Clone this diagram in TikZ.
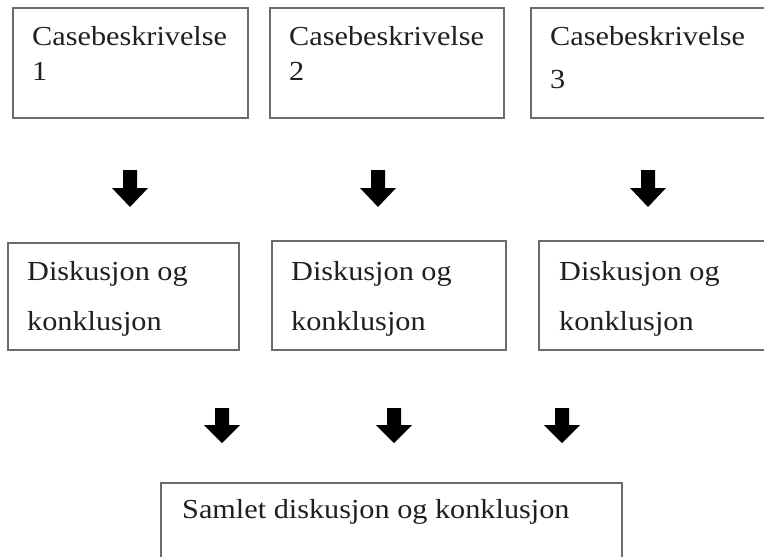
\documentclass[tikz,border=0pt]{standalone}
\usepackage{fontspec}
\setmainfont{Liberation Serif}[FakeStretch=1.1]
\begin{document}
\begin{tikzpicture}[x=1pt,y=-1pt,
  boxline/.style={draw=black!58,line width=1.6pt},
  lbl/.style={anchor=base west,inner sep=0pt,text=black!88,font=\fontsize{27.5}{30}\selectfont},
  blockarrow/.pic={\fill[black] (-7,0) -- (7,0) -- (7,18) -- (18,18) -- (0,37) -- (-18,18) -- (-7,18) -- cycle;},
  blockarrowb/.pic={\fill[black] (-7,0) -- (7,0) -- (7,17) -- (18,17) -- (0,35) -- (-18,17) -- (-7,17) -- cycle;}]
\useasboundingbox (0,0) rectangle (764,557);
\clip (0,0) rectangle (764,557);
\fill[white] (0,0) rectangle (764,557);
% top boxes
\draw[boxline] (13,8) rectangle (248,118);
\draw[boxline] (270,8) rectangle (504,118);
\draw[boxline] (531,8) rectangle (775,118);
\node[lbl] (t1a) at (32,45) {Casebeskrivelse};
\node[lbl] (t1b) at (32,80) {1};
\node[lbl] (t2a) at (289,45) {Casebeskrivelse};
\node[lbl] (t2b) at (289,80) {2};
\node[lbl] (t3a) at (550,45) {Casebeskrivelse};
\node[lbl] (t3b) at (550,88) {3};
% top arrows
\pic at (130,170) {blockarrow};
\pic at (378,170) {blockarrow};
\pic at (648,170) {blockarrow};
% middle boxes
\draw[boxline] (8,243) rectangle (239,350);
\draw[boxline] (272,241) rectangle (506,350);
\draw[boxline] (539,241) rectangle (775,350);
\node[lbl] (m1a) at (27,280) {Diskusjon og};
\node[lbl] (m1b) at (27,330) {konklusjon};
\node[lbl] (m2a) at (291,280) {Diskusjon og};
\node[lbl] (m2b) at (291,330) {konklusjon};
\node[lbl] (m3a) at (559,280) {Diskusjon og};
\node[lbl] (m3b) at (559,330) {konklusjon};
% bottom arrows
\pic at (222,408) {blockarrowb};
\pic at (394,408) {blockarrowb};
\pic at (562,408) {blockarrowb};
% bottom box
\draw[boxline] (161,483) rectangle (622,575);
\node[lbl] (b) at (182,518) {Samlet diskusjon og konklusjon};
\end{tikzpicture}
\end{document}
